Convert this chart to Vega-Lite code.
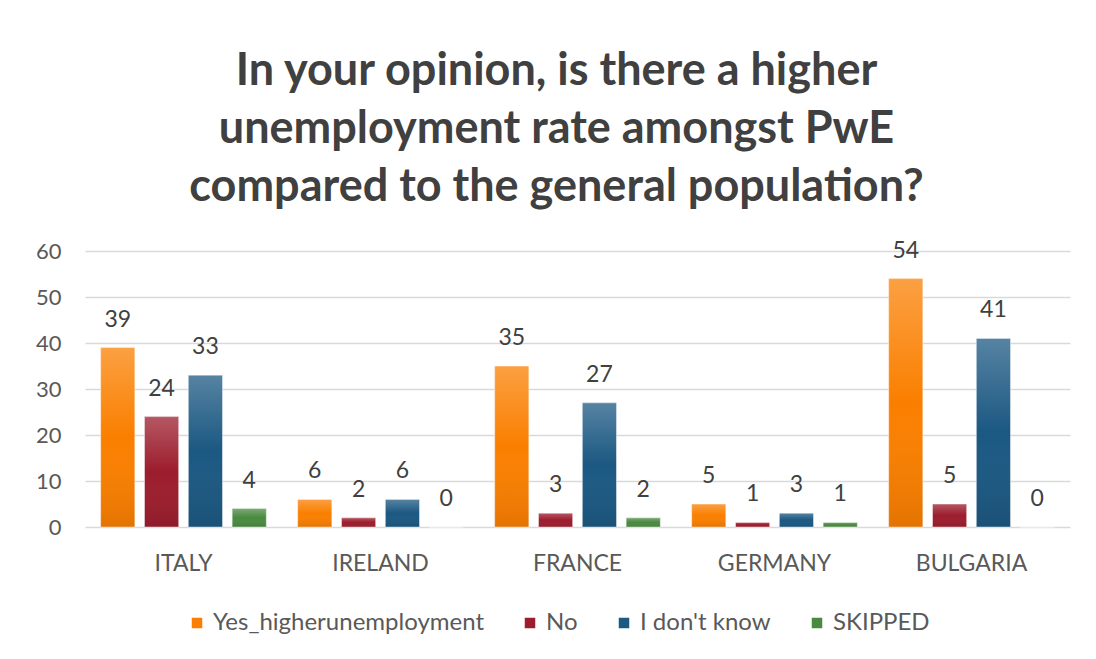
{
  "$schema": "https://vega.github.io/schema/vega-lite/v6.json",
  "width": 985,
  "height": 276,
  "autosize": {"type": "none"},
  "padding": {"left": 85, "top": 251, "right": 26, "bottom": 132},
  "background": "white",
  "title": {
    "text": ["In your opinion, is there a higher", "unemployment rate amongst PwE", "compared to the general population?"],
    "font": "Lato",
    "fontSize": 45,
    "fontWeight": "bold",
    "color": "#404040",
    "lineHeight": 58,
    "anchor": "middle",
    "offset": 30,
    "dx": -21
  },
  "config": {
    "view": {"stroke": null},
    "font": "Lato",
    "axis": {"labelFont": "Lato", "labelFontSize": 22, "labelColor": "#595959", "domain": false, "ticks": false, "title": null},
    "legend": {"labelFont": "Lato", "labelFontSize": 24, "labelColor": "#595959", "labelLimit": 500}
  },
  "data": {
    "values": [
      {"country": "ITALY", "series": "Yes_higherunemployment", "value": 39},
      {"country": "ITALY", "series": "No", "value": 24},
      {"country": "ITALY", "series": "I don't know", "value": 33},
      {"country": "ITALY", "series": "SKIPPED", "value": 4},
      {"country": "IRELAND", "series": "Yes_higherunemployment", "value": 6},
      {"country": "IRELAND", "series": "No", "value": 2},
      {"country": "IRELAND", "series": "I don't know", "value": 6},
      {"country": "IRELAND", "series": "SKIPPED", "value": 0},
      {"country": "FRANCE", "series": "Yes_higherunemployment", "value": 35},
      {"country": "FRANCE", "series": "No", "value": 3},
      {"country": "FRANCE", "series": "I don't know", "value": 27},
      {"country": "FRANCE", "series": "SKIPPED", "value": 2},
      {"country": "GERMANY", "series": "Yes_higherunemployment", "value": 5},
      {"country": "GERMANY", "series": "No", "value": 1},
      {"country": "GERMANY", "series": "I don't know", "value": 3},
      {"country": "GERMANY", "series": "SKIPPED", "value": 1},
      {"country": "BULGARIA", "series": "Yes_higherunemployment", "value": 54},
      {"country": "BULGARIA", "series": "No", "value": 5},
      {"country": "BULGARIA", "series": "I don't know", "value": 41},
      {"country": "BULGARIA", "series": "SKIPPED", "value": 0}
    ]
  },
  "encoding": {
    "x": {
      "field": "country",
      "type": "nominal",
      "sort": ["ITALY", "IRELAND", "FRANCE", "GERMANY", "BULGARIA"],
      "scale": {"paddingInner": 0.11, "paddingOuter": 0.055},
      "axis": {"labelAngle": 0, "labelPadding": 25, "grid": false, "labelFontSize": 23}
    },
    "xOffset": {
      "field": "series",
      "type": "nominal",
      "sort": ["Yes_higherunemployment", "No", "I don't know", "SKIPPED"],
      "scale": {"paddingInner": 0.22, "paddingOuter": 0.11}
    },
    "y": {
      "field": "value",
      "type": "quantitative",
      "scale": {"domain": [0, 60], "nice": false},
      "axis": {"values": [0, 10, 20, 30, 40, 50, 60], "labelPadding": 24, "gridColor": "#d9d9d9", "gridWidth": 1.6}
    }
  },
  "layer": [
    {
      "mark": {"type": "bar", "stroke": "#ffffff", "strokeWidth": 0.8, "strokeOpacity": 0.6},
      "encoding": {
        "color": {
          "field": "series",
          "type": "nominal",
          "sort": ["Yes_higherunemployment", "No", "I don't know", "SKIPPED"],
          "scale": {
            "domain": ["Yes_higherunemployment", "No", "I don't know", "SKIPPED"],
            "range": ["#fa7f00", "#9c1d2d", "#1b5882", "#4a8a40"]
          },
          "legend": {
            "title": null,
            "orient": "none",
            "direction": "horizontal",
            "legendX": 100,
            "legendY": 360,
            "symbolType": "square",
            "symbolSize": 110,
            "symbolStrokeWidth": 0,
            "columnPadding": 34,
            "labelOffset": 4
          }
        }
      }
    },
    {
      "mark": {
        "type": "bar",
        "color": {
          "gradient": "linear",
          "x1": 0, "y1": 0, "x2": 0, "y2": 1,
          "stops": [
            {"offset": 0, "color": "rgba(255,255,255,0.26)"},
            {"offset": 0.5, "color": "rgba(255,255,255,0)"},
            {"offset": 1, "color": "rgba(0,0,0,0.09)"}
          ]
        }
      }
    },
    {
      "mark": {"type": "text", "baseline": "alphabetic", "dy": -21, "fontSize": 23, "color": "#404040", "font": "Lato"},
      "encoding": {"text": {"field": "value", "type": "quantitative"}}
    }
  ]
}
